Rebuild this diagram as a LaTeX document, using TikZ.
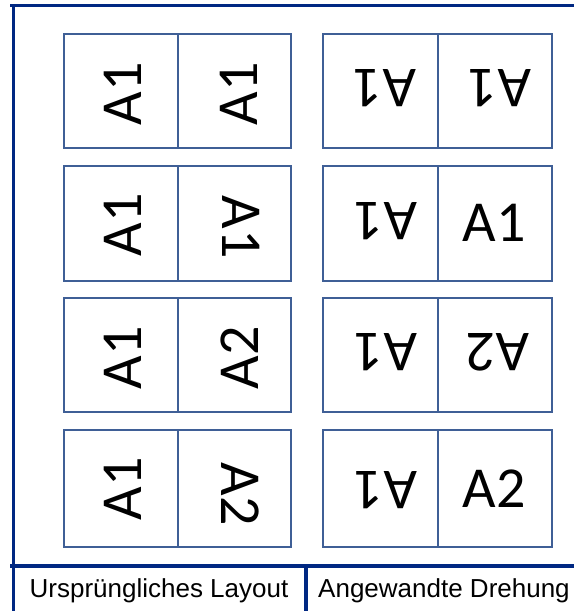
\documentclass[tikz,border=0pt]{standalone}
\usepackage{fontspec}
\setmainfont{Liberation Sans}
\newfontfamily\cellfont{Carlito}
\definecolor{framecol}{RGB}{0,40,130}
\definecolor{boxcol}{RGB}{63,95,150}

\begin{document}
\begin{tikzpicture}[x=1pt,y=-1pt,
  frame/.style={framecol,line width=3.5pt},
  label/.style={boxcol,line width=2pt},
  tag/.style={font=\cellfont\fontsize{58}{58}\selectfont,inner sep=0pt},
  caption/.style={font=\fontsize{26}{26}\selectfont,anchor=base,inner sep=0pt}]
\useasboundingbox (0,0) rectangle (574,611);
\draw [frame](10,5.5)--(574,5.5);
\draw [frame](13.5,4)--(13.5,611);
\draw [frame](10,566)--(574,566);
\draw [frame](306,566)--(306,611);
% original layout
\draw [label](64,34) rectangle (291,148) (178,34)--(178,148);
\draw [label](64,166) rectangle (291,281) (178,166)--(178,281);
\draw [label](64,298) rectangle (291,412) (178,298)--(178,412);
\draw [label](64,430) rectangle (291,547) (178,430)--(178,547);
\node [tag,rotate=90] (l1a) at (123,94) {A1};
\node [tag,rotate=90] (l1b) at (239,94) {A1};
\node [tag,rotate=90] (l2a) at (123,225) {A1};
\node [tag,rotate=-90] (l2b) at (241,227) {A1};
\node [tag,rotate=90] (l3a) at (123,358) {A1};
\node [tag,rotate=90] (l3b) at (240,358) {A2};
\node [tag,rotate=90] (l4a) at (123,489) {A1};
\node [tag,rotate=-90] (l4b) at (240,494) {A2};
% applied rotation
\draw [label](323,34) rectangle (552,148) (438,34)--(438,148);
\draw [label](323,166) rectangle (552,281) (438,166)--(438,281);
\draw [label](323,298) rectangle (552,412) (438,298)--(438,412);
\draw [label](323,430) rectangle (552,547) (438,430)--(438,547);
\node [tag,rotate=180] (r1a) at (385,88) {A1};
\node [tag,rotate=180] (r1b) at (500,88) {A1};
\node [tag,rotate=180] (r2a) at (386,221) {A1};
\node [tag] (r2b) at (494,223) {A1};
\node [tag,rotate=180] (r3a) at (386,352) {A1};
\node [tag,rotate=180] (r3b) at (498,352) {A2};
\node [tag,rotate=180] (r4a) at (386,490) {A1};
\node [tag] (r4b) at (494,489) {A2};
\node [caption] (orig) at (159,597) {Ursprüngliches Layout};
\node [caption] (turned) at (444,597) {Angewandte Drehung};
\end{tikzpicture}
\end{document}
